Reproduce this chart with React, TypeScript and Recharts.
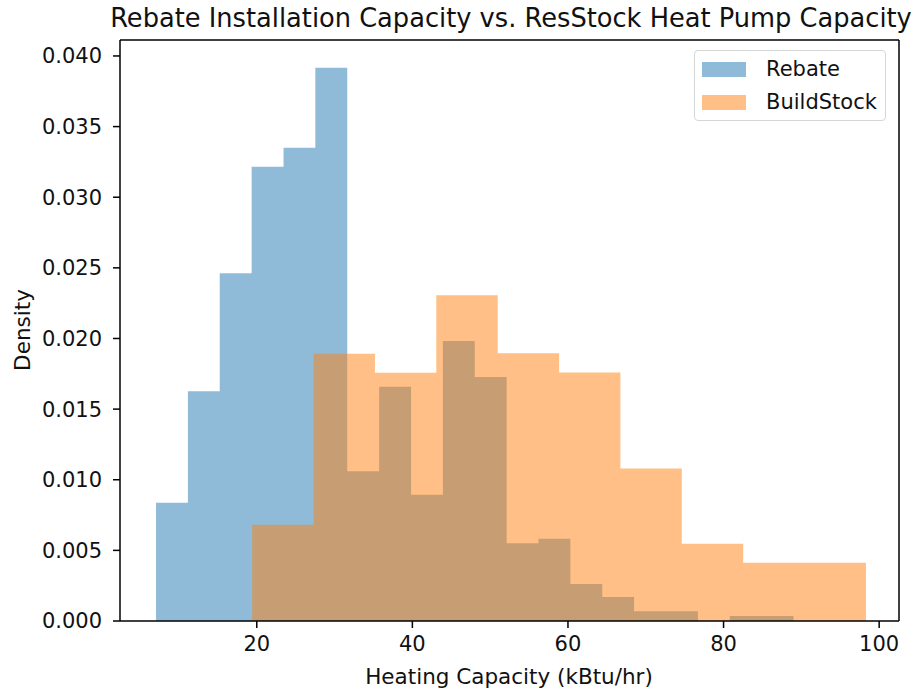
import React from "react"
import { ComposedChart, Area, XAxis, YAxis, ReferenceLine } from "recharts"

// bin edges (kBtu/hr) and densities
const rebateEdges = [7.05, 11.15, 15.24, 19.34, 23.44, 27.53, 31.63, 35.73, 39.83, 43.92, 48.02, 52.12, 56.21, 60.31, 64.41, 68.5, 72.6, 76.7, 80.8, 84.89, 88.99]
const rebateDensity = [0.00838, 0.01626, 0.02462, 0.03216, 0.03351, 0.03917, 0.0106, 0.01659, 0.00894, 0.01982, 0.01727, 0.0055, 0.00583, 0.00262, 0.0017, 0.00069, 0.00069, 0, 0.00035, 0.00035]

const buildEdges = [19.41, 27.3, 35.19, 43.08, 50.97, 58.86, 66.74, 74.63, 82.52, 90.41, 98.3]
const buildDensity = [0.00682, 0.01892, 0.01758, 0.02306, 0.01895, 0.0176, 0.0108, 0.00547, 0.00413, 0.00413]

const xTicks = [20, 40, 60, 80, 100]
const yTicks = [0, 0.005, 0.01, 0.015, 0.02, 0.025, 0.03, 0.035, 0.04]
const xDomain = [2.42, 102.55]
const yDomain = [0, 0.04113]

const seriesNames = ["Rebate", "BuildStock"]
const colors = ["#1f77b4", "#ff7f0e"]

// step data: each edge carries the density of the bin to its right, last edge repeats last bin
const toSteps = (edges: number[], vals: number[]) =>
  edges.map((x, i) => ({ x, density: vals[Math.min(i, vals.length - 1)] }))

const rebateData = toSteps(rebateEdges, rebateDensity)
const buildData = toSteps(buildEdges, buildDensity)

const FONT = "DejaVu Sans, sans-serif"
const tickStyle = { fontSize: 21, fill: "#111", fontFamily: FONT }
const spine = { stroke: "#000", strokeWidth: 1.5 }

function LegendBox() {
  return (
    <div
      style={{
        position: "absolute",
        left: 694,
        top: 50,
        width: 192,
        height: 71,
        border: "1px solid #d6d6d6",
        borderRadius: 4,
        background: "rgba(255,255,255,0.8)",
        boxSizing: "border-box",
        fontFamily: FONT,
        fontSize: 21,
        color: "#111",
      }}
    >
      {seriesNames.map((name, i) => (
        <div key={name} style={{ position: "absolute", left: 7, top: 10 + i * 33, height: 17, display: "flex", alignItems: "center" }}>
          <span style={{ display: "inline-block", width: 44, height: 15, background: colors[i], opacity: 0.5 }} />
          <span style={{ marginLeft: 20, lineHeight: "17px" }}>{name}</span>
        </div>
      ))}
    </div>
  )
}

export default function App() {
  return (
    <div style={{ position: "absolute", left: 0, top: 0, width: 922, height: 692, background: "#fff", fontFamily: FONT }}>
      <div
        style={{
          position: "absolute",
          left: 0,
          top: 3,
          width: 1022,
          textAlign: "center",
          fontSize: 25.7,
          color: "#111",
          whiteSpace: "nowrap",
        }}
      >
        Rebate Installation Capacity vs. ResStock Heat Pump Capacity
      </div>
      <ComposedChart width={922} height={692} margin={{ top: 40, right: 23, left: 0, bottom: 0 }}>
        <XAxis
          dataKey="x"
          type="number"
          domain={xDomain}
          ticks={xTicks}
          allowDataOverflow
          height={71}
          tickSize={7}
          tickMargin={8}
          tick={tickStyle}
          axisLine={spine}
          tickLine={spine}
          label={{
            content: () => (
              <text x={509} y={684} textAnchor="middle" fontSize={21.5} fontFamily={FONT} fill="#111">
                Heating Capacity (kBtu/hr)
              </text>
            ),
          }}
        />
        <YAxis
          type="number"
          domain={yDomain}
          ticks={yTicks}
          allowDataOverflow
          width={120}
          tickSize={7}
          tickMargin={11}
          tick={tickStyle}
          tickFormatter={(v: number) => v.toFixed(3)}
          axisLine={spine}
          tickLine={spine}
          label={{
            content: () => (
              <text x={22} y={330} transform="rotate(-90 22 330)" textAnchor="middle" dominantBaseline="central" fontSize={21.5} fontFamily={FONT} fill="#111">
                Density
              </text>
            ),
          }}
        />
        <Area
          data={rebateData}
          dataKey="density"
          name={seriesNames[0]}
          type="stepAfter"
          stroke="none"
          fill={colors[0]}
          fillOpacity={0.5}
          isAnimationActive={false}
          activeDot={false}
          dot={false}
        />
        <Area
          data={buildData}
          dataKey="density"
          name={seriesNames[1]}
          type="stepAfter"
          stroke="none"
          fill={colors[1]}
          fillOpacity={0.5}
          isAnimationActive={false}
          activeDot={false}
          dot={false}
        />
        {/* top and right spines */}
        <ReferenceLine y={yDomain[1]} stroke="#000" strokeWidth={1.5} ifOverflow="extendDomain" />
        <ReferenceLine x={xDomain[1]} stroke="#000" strokeWidth={1.5} ifOverflow="extendDomain" />
      </ComposedChart>
      <LegendBox />
    </div>
  )
}
